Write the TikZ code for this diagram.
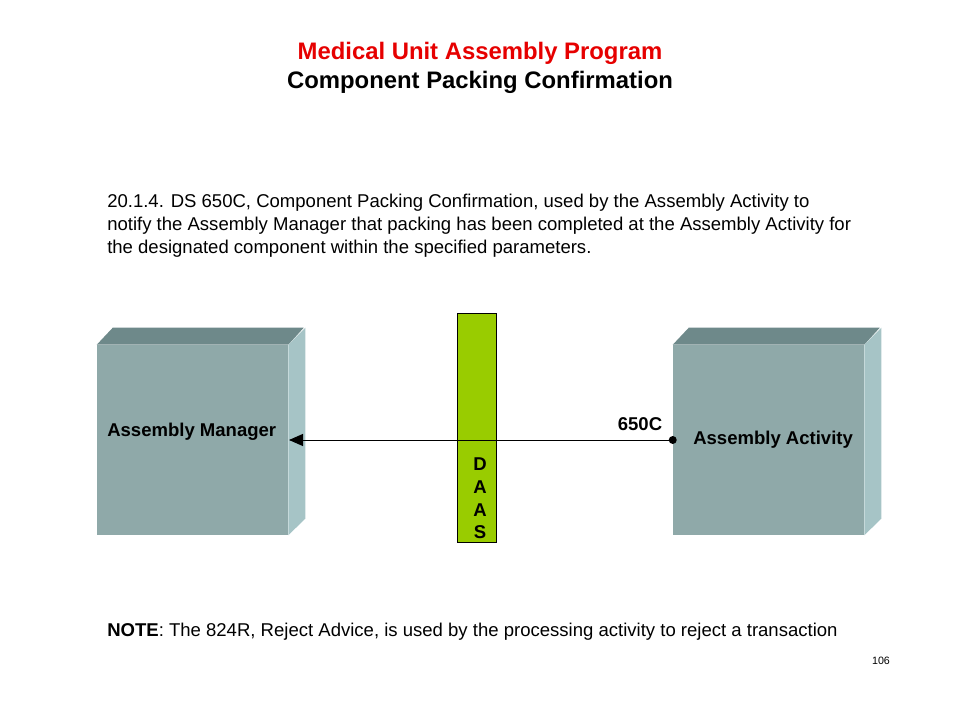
\documentclass[tikz,border=0pt]{standalone}
\usepackage{fontspec}
\setmainfont{Liberation Sans}
\usepackage{tikz}
\usetikzlibrary{arrows.meta, positioning}

\definecolor{frontgray}{RGB}{143,169,169}
\definecolor{topgray}{RGB}{110,137,138}
\definecolor{sidegray}{RGB}{166,196,198}
\definecolor{daasgreen}{RGB}{153,204,0}
\definecolor{titlered}{RGB}{230,0,0}

\tikzset{
  front/.style={draw=none, fill=frontgray, minimum width=143.25pt, minimum height=142.5pt, inner sep=0pt},
  boxlabel/.style={font=\fontsize{13.9}{16}\selectfont\bfseries, inner sep=0pt},
  daasbar/.style={draw=black, line width=0.75pt, fill=daasgreen, minimum width=29.25pt, minimum height=171.75pt, inner sep=0pt},
  flow/.style={line width=0.75pt, -{Triangle[length=10.5pt, width=9pt]}}
}

\begin{document}
\begin{tikzpicture}[x=0.75pt, y=-0.75pt]
  \useasboundingbox (0,0) rectangle (960,720);

  % titles
  \node[font=\fontsize{17.9}{20}\selectfont\bfseries, text=titlered] (title) at (480,53) {Medical Unit Assembly Program};
  \node[font=\fontsize{17.9}{20}\selectfont\bfseries] (subtitle) at (480,82) {Component Packing Confirmation};

  % description
  \node[anchor=north west, align=left, inner sep=0pt, font=\fontsize{13.9}{17.25}\selectfont] (desc) at (107,194)
    {20.1.4. DS 650C, Component Packing Confirmation, used by the Assembly Activity to\\
     notify the Assembly Manager that packing has been completed at the Assembly Activity for\\
     the designated component within the specified parameters.};

  % boxes
  \node[front] (mgr) at (192.5,440) {};
  \node[front] (act) at (768.5,440) {};
  \foreach \b in {mgr, act} {
    \fill[topgray] (\b.north west) -- ++(16,-17) -- ++(191,0) -- (\b.north east) -- cycle;
    \fill[sidegray] (\b.north east) -- ++(17,-17) -- ++(0,191) -- (\b.south east) -- cycle;
  }
  \node[boxlabel, anchor=west] (mgrtext) at (107,432) {Assembly Manager};
  \node[boxlabel, anchor=west] (acttext) at (693,440) {Assembly Activity};

  % DAAS
  \node[daasbar] (daas) at (476.5,427.5) {};
  \node[font=\fontsize{13.9}{17}\selectfont\bfseries, align=center, inner sep=0pt] (daastext) at (480,498.5) {D\\A\\A\\S};

  % transaction
  \coordinate (src) at (act.west);
  \draw[flow] (src) -- (mgr.east -| 289,0);
  \fill (src) circle (4);
  \node[boxlabel] (code) at (640,424) {650C};

  % note
  \node[anchor=west, inner sep=0pt, font=\fontsize{13.9}{16}\selectfont] (note) at (107,632) {\textbf{NOTE}: The 824R, Reject Advice, is used by the processing activity to reject a transaction};
  \node[font=\fontsize{8}{10}\selectfont] (page) at (881,661) {106};
\end{tikzpicture}
\end{document}
